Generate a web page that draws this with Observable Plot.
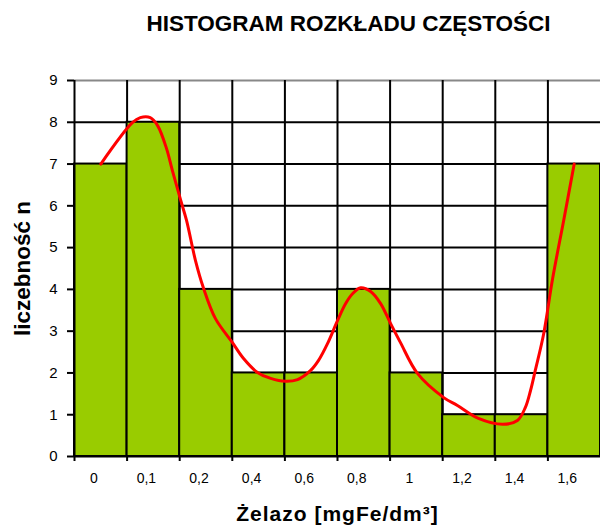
<!DOCTYPE html>
<html>
<head>
<meta charset="utf-8">
<script src="https://cdn.jsdelivr.net/npm/d3@7"></script>
<script src="https://cdn.jsdelivr.net/npm/@observablehq/plot@0.6"></script>
<style>
  html, body { margin: 0; padding: 0; background: #fff; }
  body { width: 600px; height: 528px; overflow: hidden; font-family: "Liberation Sans", Arial, sans-serif; }
  #title { height: 62px; box-sizing: border-box; padding-top: 13px; padding-left: 97px; width: 600px;
           text-align: center; font-weight: bold; font-size: 22.5px; line-height: 22px; color: #000; }
  #chart svg { display: block; overflow: visible; }
</style>
</head>
<body>
<div id="title">HISTOGRAM ROZKŁADU CZĘSTOŚCI</div>
<div id="chart"></div>
<script>
// Category tick labels (Żelazo, mgFe/dm3)
const labels = ["0", "0,1", "0,2", "0,4", "0,6", "0,8", "1", "1,2", "1,4", "1,6"];
// Counts (liczebność n) per class
const counts = [7, 8, 4, 2, 2, 4, 2, 1, 1, 7];
// Smoothed red curve (x in class-index units, y in counts)
const curveX = [0.5, 1.1, 1.25, 1.44, 1.58, 1.75, 1.86, 2.02, 2.13, 2.3, 2.45, 2.68, 3.0, 3.21, 3.48, 3.73, 4.01, 4.24, 4.49, 4.64, 4.81, 5.0, 5.15, 5.29, 5.44, 5.63, 5.82, 6.01, 6.2, 6.52, 7.02, 7.28, 7.68, 8.14, 8.42, 8.57, 8.67, 8.76, 8.92, 9.09, 9.3, 9.5];
const curveY = [7.0, 7.99, 8.11, 8.11, 7.92, 7.37, 6.85, 6.13, 5.65, 4.69, 4.04, 3.3, 2.73, 2.35, 2.01, 1.87, 1.8, 1.84, 2.06, 2.3, 2.7, 3.25, 3.65, 3.9, 4.04, 3.95, 3.66, 3.18, 2.72, 1.99, 1.41, 1.22, 0.91, 0.77, 0.86, 1.17, 1.58, 2.06, 2.94, 4.26, 5.65, 7.0];
const yTicks = [0, 1, 2, 3, 4, 5, 6, 7, 8, 9];
const xLabel = "Żelazo [mgFe/dm³]";
const yLabel = "liczebność n";

const bars = counts.map((v, i) => ({i, v}));
const curve = curveX.map((x, k) => ({x, y: curveY[k]}));
const boundaries = d3.range(0, labels.length);
const centers = labels.map((l, i) => ({pos: i + 0.5, l}));

const chart = Plot.plot({
  width: 600,
  height: 466,
  marginTop: 18,
  marginBottom: 72,
  marginLeft: 74,
  marginRight: 0,
  style: {fontFamily: "'Liberation Sans', Arial, sans-serif", fontSize: "14px", color: "#000", background: "#fff", overflow: "visible"},
  x: {domain: [0, labels.length], range: [74, 600]},
  y: {domain: [0, 9]},
  marks: [
    Plot.ruleY(yTicks.filter(d => d > 0 && d < 9), {stroke: "#000", strokeWidth: 2}),
    Plot.ruleY([9], {stroke: "#888", strokeWidth: 2}),
    Plot.ruleX(boundaries.filter(d => d > 0), {y1: 0, y2: 9, stroke: "#000", strokeWidth: 2}),
    Plot.rect(bars, {x1: d => d.i, x2: d => d.i + 1, y1: 0, y2: "v", fill: "#99cc00", stroke: "#000", strokeWidth: 2}),
    Plot.line(curve, {x: "x", y: "y", curve: "catmull-rom", stroke: "#ff0000", strokeWidth: 3}),
    Plot.ruleX([0], {y1: 0, y2: 9, stroke: "#000", strokeWidth: 2}),
    Plot.ruleY([0], {stroke: "#000", strokeWidth: 2}),
    Plot.axisY({ticks: yTicks, tickSize: 7, tickPadding: 10, tickFormat: d => String(d), label: null, fontSize: 15, stroke: "#000", strokeWidth: 2}),
    Plot.axisX({ticks: boundaries, tickSize: 5, tickFormat: () => "", label: null, stroke: "#000", strokeWidth: 2}),
    Plot.axisX({ticks: centers.map(d => d.pos), tickSize: 0, tickPadding: 17, tickFormat: (d, k) => labels[k], label: null, dx: -7, fontSize: 14}),
    Plot.text([xLabel], {text: d => d, frameAnchor: "bottom", textAnchor: "middle", lineAnchor: "middle", dy: 58, fontSize: 21, fontWeight: "bold", fill: "#000"}),
    Plot.text([yLabel], {text: d => d, frameAnchor: "left", textAnchor: "middle", lineAnchor: "middle", dx: -52, rotate: -90, fontSize: 22.5, fontWeight: "bold", fill: "#000"})
  ]
});
document.getElementById("chart").appendChild(chart);
// slight letter spacing on the x-axis title, as in the original rendering
d3.select(chart).selectAll("text").filter(function() { return this.textContent === xLabel; }).style("letter-spacing", "1px");
</script>
</body>
</html>
